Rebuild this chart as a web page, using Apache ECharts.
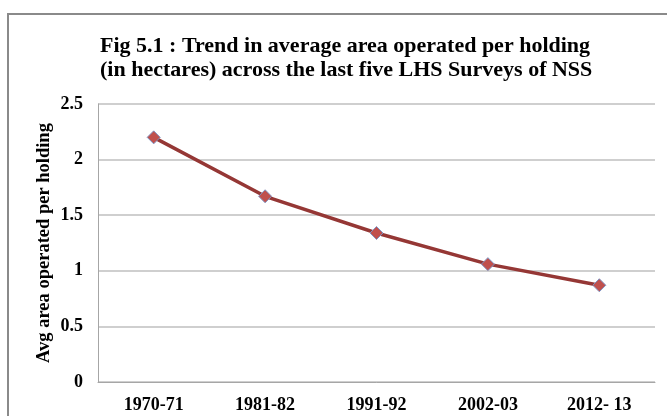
<!DOCTYPE html>
<html>
<head>
<meta charset="utf-8">
<script src="https://cdn.jsdelivr.net/npm/echarts@6/dist/echarts.min.js"></script>
<style>
  html, body { margin: 0; padding: 0; background: #fff; }
  #container { width: 667px; height: 416px; }
</style>
</head>
<body>
<div id="container"></div>
<script>
var surveys = ['1970-71', '1981-82', '1991-92', '2002-03', '2012- 13'];
var avgArea = [2.2, 1.67, 1.34, 1.06, 0.87];
var titleLines = [
    'Fig 5.1 : Trend in average area operated per holding',
    '(in hectares) across the last five LHS Surveys of NSS'
];
var yAxisName = 'Avg area operated per holding';

var dom = document.getElementById('container');
var myChart = echarts.init(dom);
var serif = '"Liberation Serif", "Times New Roman", serif';

var option = {
    backgroundColor: '#fff',
    animation: false,
    title: {
        text: titleLines.join('\n'),
        left: 95,
        top: 29,
        textStyle: {
            fontFamily: serif,
            fontWeight: 'bold',
            fontSize: 22,
            lineHeight: 24,
            color: '#000'
        }
    },
    graphic: [{
        type: 'rect',
        shape: { x: 8, y: 14, width: 700, height: 430 },
        style: { fill: 'none', stroke: '#8a8a8a', lineWidth: 2 }
    }],
    grid: { left: 98, right: 12, top: 104, bottom: 34 },
    xAxis: {
        type: 'category',
        data: surveys,
        boundaryGap: true,
        axisLine: { lineStyle: { color: '#a6a6a6', width: 1 } },
        axisTick: { show: false },
        axisLabel: {
            fontFamily: serif, fontWeight: 'bold', fontSize: 18, color: '#000', margin: 14
        }
    },
    yAxis: {
        type: 'value',
        min: 0,
        max: 2.5,
        interval: 0.5,
        name: yAxisName,
        nameLocation: 'middle',
        nameGap: 44,
        nameMoveOverlap: false,
        nameTextStyle: { fontFamily: serif, fontWeight: 'bold', fontSize: 18.5, color: '#000' },
        axisLine: { show: true, lineStyle: { color: '#a6a6a6', width: 1 } },
        axisTick: { show: false },
        splitLine: { lineStyle: { color: '#bfbfbf', width: 1.5 } },
        axisLabel: {
            fontFamily: serif, fontWeight: 'bold', fontSize: 18, color: '#000', margin: 15
        }
    },
    series: [{
        type: 'line',
        data: avgArea,
        symbol: 'diamond',
        symbolSize: 13,
        lineStyle: { color: '#953735', width: 3.5 },
        itemStyle: { color: '#c0504d', borderColor: '#7f94c4', borderWidth: 1 }
    }]
};
myChart.setOption(option);
</script>
</body>
</html>
